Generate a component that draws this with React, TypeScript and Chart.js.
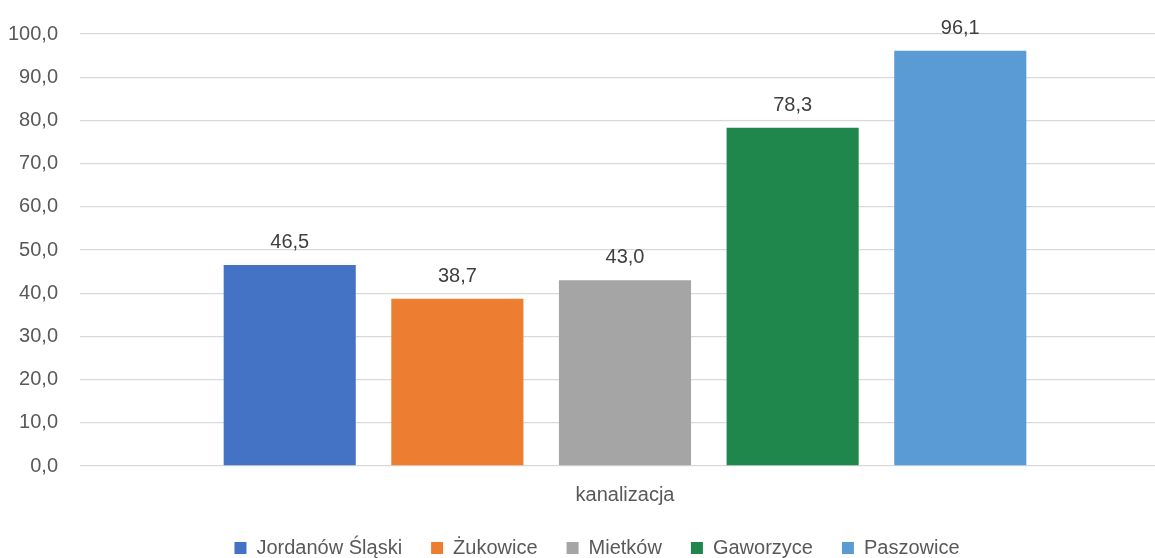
import React, { useEffect, useRef } from "react";
import { Chart, registerables } from "chart.js";

Chart.register(...registerables);

const categories = ["kanalizacja"];
const seriesNames = ["Jordanów Śląski", "Żukowice", "Mietków", "Gaworzyce", "Paszowice"];
const seriesValues = [46.5, 38.7, 43.0, 78.3, 96.1];
const seriesColors = ["#4472C4", "#ED7D31", "#A5A5A5", "#1F874B", "#5B9BD5"];
const yMin = 0;
const yMax = 100;
const yStep = 10;

const FONT = "'Liberation Sans Narrow', 'Arial Narrow', 'Liberation Sans', Arial, sans-serif";
const FS = 20;
const fmt = (v: number) => v.toFixed(1).replace(".", ",");

const valueLabels = {
  id: "valueLabels",
  afterDatasetsDraw(chart: any) {
    const ctx = chart.ctx;
    ctx.save();
    ctx.fillStyle = "#404040";
    ctx.font = `${FS}px ${FONT}`;
    ctx.textAlign = "center";
    ctx.textBaseline = "alphabetic";
    chart.data.datasets.forEach((ds: any, i: number) => {
      const meta = chart.getDatasetMeta(i);
      meta.data.forEach((bar: any, j: number) => {
        ctx.fillText(fmt(ds.data[j]), bar.x, bar.y - 17);
      });
    });
    ctx.restore();
  },
};

const legendShift = {
  id: "legendShift",
  afterLayout(chart: any) {
    const l = chart.legend;
    if (l) {
      l.left += 12;
      l.right += 12;
    }
  },
};

export default function App() {
  const ref = useRef<HTMLCanvasElement | null>(null);
  useEffect(() => {
    if (!ref.current) return;
    const chart = new Chart(ref.current, {
      type: "bar",
      data: {
        labels: categories,
        datasets: seriesNames.map((name, i) => ({
          label: name,
          data: [seriesValues[i]],
          backgroundColor: seriesColors[i],
          borderWidth: 0,
          categoryPercentage: 0.769,
          barPercentage: 0.788,
        })),
      },
      options: {
        animation: false,
        responsive: false,
        maintainAspectRatio: false,
        layout: { padding: { top: 32, right: 0, left: 0, bottom: 0 } },
        plugins: {
          tooltip: { enabled: false },
          legend: {
            position: "bottom",
            labels: {
              boxWidth: 12,
              boxHeight: 12,
              padding: 29,
              color: "#595959",
              font: { family: FONT, size: FS },
            },
          },
        },
        scales: {
          x: {
            grid: { display: false, drawTicks: false },
            border: { display: false },
            ticks: { color: "#595959", font: { family: FONT, size: FS }, padding: 17, maxRotation: 0 },
            afterFit: (s: any) => {
              s.height = 43;
            },
          },
          y: {
            min: yMin,
            max: yMax,
            border: { display: false },
            grid: { color: "#D9D9D9", lineWidth: 1.3, drawTicks: false },
            ticks: {
              stepSize: yStep,
              padding: 22,
              color: "#595959",
              font: { family: FONT, size: FS },
              callback: (v: any) => fmt(Number(v)),
            },
            afterFit: (s: any) => {
              s.width = 80;
            },
          },
        },
      },
      plugins: [valueLabels, legendShift],
    } as any);
    return () => chart.destroy();
  }, []);
  return (
    <div style={{ position: "fixed", left: 0, top: 0, width: 1155, height: 558, overflow: "hidden", background: "#fff" }}>
      <canvas ref={ref} width={1170} height={568} style={{ width: 1170, height: 568, display: "block" }} />
    </div>
  );
}
